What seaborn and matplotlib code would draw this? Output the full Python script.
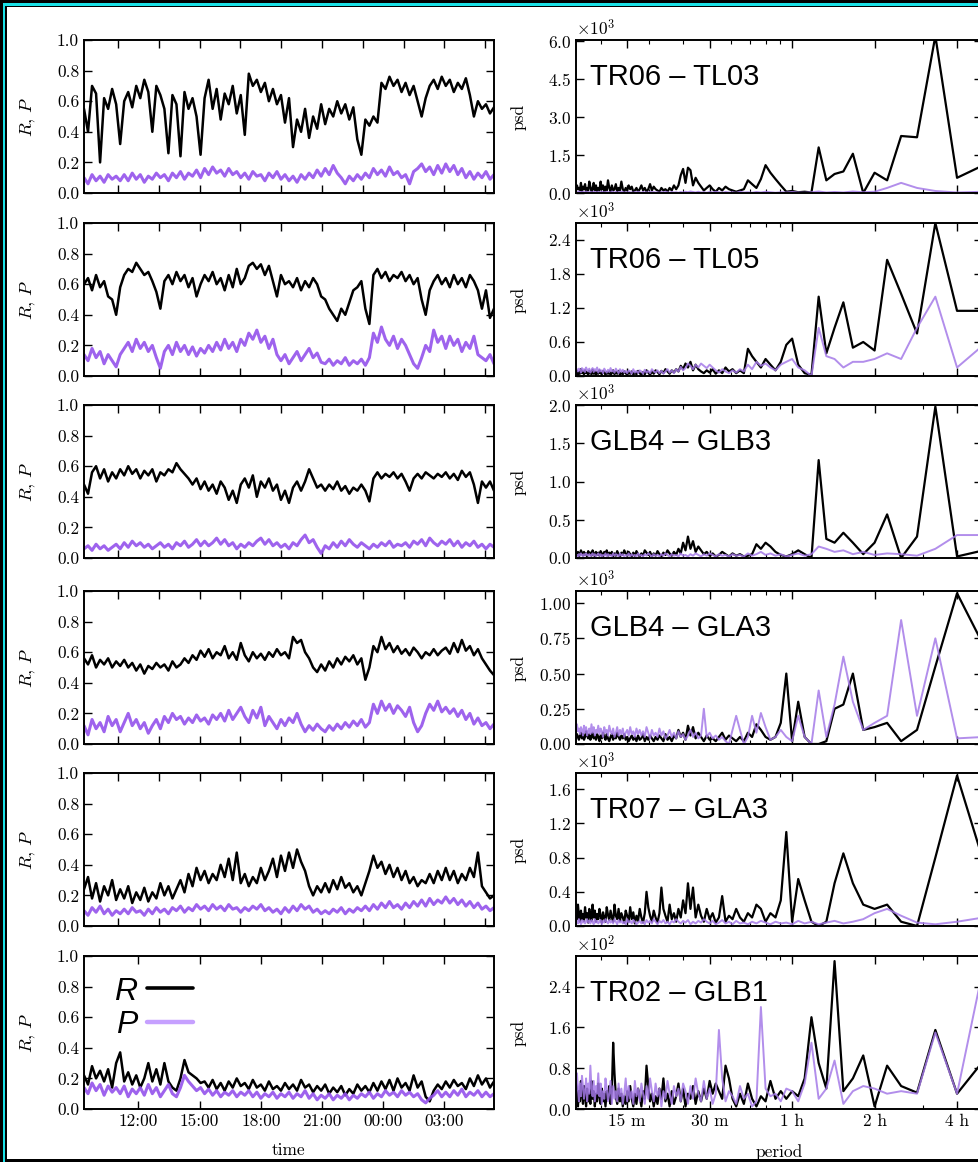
import numpy as np
import matplotlib
matplotlib.use("Agg")
import matplotlib.pyplot as plt
from matplotlib.lines import Line2D
from matplotlib.patches import Rectangle
from matplotlib.ticker import ScalarFormatter, NullFormatter
import seaborn as sns

# -----------------------------
# data
# -----------------------------
pairs = ["TR06 \u2013 TL03", "TR06 \u2013 TL05", "GLB4 \u2013 GLB3",
         "GLB4 \u2013 GLA3", "TR07 \u2013 GLA3", "TR02 \u2013 GLB1"]

# time axis (hours since midnight of day 1), 103 samples from ~09:20 to ~05:26
t_start, t_end, n_t = 9.33, 29.43, 103

R1 = [0.55, 0.40, 0.70, 0.65, 0.20, 0.62, 0.55, 0.68, 0.58, 0.32,
      0.60, 0.66, 0.56, 0.70, 0.62, 0.74, 0.66, 0.40, 0.70, 0.64,
      0.55, 0.26, 0.64, 0.58, 0.24, 0.66, 0.55, 0.62, 0.50, 0.25,
      0.62, 0.74, 0.55, 0.68, 0.48, 0.65, 0.58, 0.70, 0.52, 0.64,
      0.38, 0.78, 0.70, 0.74, 0.66, 0.72, 0.60, 0.68, 0.58, 0.64,
      0.46, 0.62, 0.30, 0.48, 0.40, 0.55, 0.36, 0.50, 0.42, 0.58,
      0.45, 0.55, 0.50, 0.60, 0.52, 0.58, 0.48, 0.56, 0.35, 0.25,
      0.48, 0.44, 0.50, 0.46, 0.72, 0.68, 0.76, 0.70, 0.74, 0.66,
      0.72, 0.64, 0.70, 0.60, 0.50, 0.62, 0.70, 0.74, 0.68, 0.76,
      0.70, 0.74, 0.66, 0.72, 0.68, 0.75, 0.64, 0.50, 0.60, 0.55,
      0.58, 0.52, 0.56]
P1 = [0.10, 0.06, 0.12, 0.08, 0.11, 0.07, 0.12, 0.09, 0.11, 0.08,
      0.12, 0.08, 0.13, 0.09, 0.12, 0.07, 0.11, 0.09, 0.13, 0.10,
      0.12, 0.08, 0.13, 0.10, 0.14, 0.09, 0.13, 0.11, 0.15, 0.10,
      0.16, 0.12, 0.17, 0.13, 0.15, 0.11, 0.16, 0.12, 0.14, 0.10,
      0.13, 0.09, 0.14, 0.11, 0.12, 0.08, 0.13, 0.10, 0.14, 0.09,
      0.12, 0.08, 0.11, 0.07, 0.12, 0.09, 0.13, 0.10, 0.15, 0.11,
      0.16, 0.12, 0.18, 0.13, 0.10, 0.06, 0.11, 0.08, 0.12, 0.09,
      0.13, 0.10, 0.16, 0.12, 0.15, 0.11, 0.17, 0.12, 0.14, 0.10,
      0.12, 0.06, 0.14, 0.16, 0.19, 0.14, 0.17, 0.12, 0.18, 0.13,
      0.19, 0.14, 0.18, 0.12, 0.16, 0.10, 0.14, 0.09, 0.13, 0.10,
      0.14, 0.09, 0.12]
R2 = [0.60, 0.64, 0.56, 0.66, 0.58, 0.62, 0.52, 0.50, 0.40, 0.58,
      0.66, 0.70, 0.68, 0.74, 0.70, 0.66, 0.68, 0.62, 0.55, 0.44,
      0.62, 0.66, 0.60, 0.68, 0.62, 0.66, 0.58, 0.64, 0.52, 0.60,
      0.66, 0.62, 0.68, 0.60, 0.64, 0.56, 0.66, 0.58, 0.70, 0.60,
      0.64, 0.72, 0.74, 0.70, 0.73, 0.66, 0.72, 0.62, 0.52, 0.66,
      0.60, 0.62, 0.58, 0.64, 0.56, 0.62, 0.58, 0.64, 0.60, 0.52,
      0.50, 0.44, 0.40, 0.36, 0.44, 0.40, 0.48, 0.56, 0.58, 0.62,
      0.44, 0.34, 0.66, 0.70, 0.64, 0.68, 0.62, 0.66, 0.64, 0.68,
      0.62, 0.66, 0.60, 0.64, 0.50, 0.40, 0.56, 0.62, 0.66, 0.60,
      0.64, 0.58, 0.66, 0.60, 0.64, 0.58, 0.66, 0.62, 0.56, 0.44,
      0.56, 0.38, 0.44]
P2 = [0.14, 0.10, 0.18, 0.12, 0.16, 0.08, 0.14, 0.10, 0.06, 0.14,
      0.18, 0.22, 0.16, 0.24, 0.18, 0.22, 0.16, 0.20, 0.12, 0.05,
      0.16, 0.20, 0.14, 0.22, 0.16, 0.20, 0.14, 0.19, 0.13, 0.18,
      0.15, 0.20, 0.16, 0.22, 0.17, 0.24, 0.18, 0.22, 0.16, 0.24,
      0.20, 0.28, 0.24, 0.30, 0.22, 0.26, 0.18, 0.24, 0.14, 0.10,
      0.14, 0.08, 0.12, 0.16, 0.10, 0.14, 0.18, 0.12, 0.15, 0.09,
      0.08, 0.11, 0.07, 0.10, 0.08, 0.12, 0.07, 0.10, 0.08, 0.11,
      0.07, 0.12, 0.28, 0.22, 0.32, 0.24, 0.20, 0.26, 0.18, 0.24,
      0.20, 0.14, 0.08, 0.05, 0.12, 0.20, 0.16, 0.30, 0.22, 0.26,
      0.18, 0.26, 0.20, 0.24, 0.16, 0.22, 0.18, 0.26, 0.14, 0.12,
      0.10, 0.14, 0.08]
R3 = [0.48, 0.42, 0.56, 0.60, 0.52, 0.58, 0.50, 0.56, 0.52, 0.58,
      0.54, 0.60, 0.55, 0.58, 0.52, 0.57, 0.54, 0.58, 0.50, 0.56,
      0.54, 0.58, 0.56, 0.62, 0.58, 0.55, 0.52, 0.48, 0.52, 0.45,
      0.50, 0.44, 0.48, 0.42, 0.50, 0.46, 0.38, 0.44, 0.36, 0.48,
      0.52, 0.46, 0.54, 0.40, 0.50, 0.46, 0.52, 0.44, 0.48, 0.38,
      0.44, 0.36, 0.46, 0.50, 0.44, 0.50, 0.58, 0.52, 0.46, 0.48,
      0.44, 0.48, 0.45, 0.50, 0.44, 0.47, 0.42, 0.46, 0.44, 0.48,
      0.44, 0.37, 0.52, 0.56, 0.52, 0.55, 0.53, 0.56, 0.52, 0.55,
      0.50, 0.44, 0.52, 0.55, 0.52, 0.56, 0.54, 0.52, 0.55, 0.53,
      0.56, 0.52, 0.55, 0.51, 0.57, 0.53, 0.56, 0.48, 0.36, 0.50,
      0.46, 0.50, 0.44]
P3 = [0.06, 0.08, 0.05, 0.09, 0.06, 0.08, 0.05, 0.07, 0.09, 0.06,
      0.10, 0.07, 0.11, 0.08, 0.10, 0.07, 0.09, 0.06, 0.08, 0.10,
      0.07, 0.09, 0.06, 0.10, 0.08, 0.11, 0.07, 0.09, 0.12, 0.08,
      0.11, 0.08, 0.10, 0.13, 0.09, 0.12, 0.08, 0.10, 0.06, 0.09,
      0.07, 0.10, 0.08, 0.11, 0.13, 0.09, 0.12, 0.08, 0.10, 0.07,
      0.09, 0.06, 0.10, 0.08, 0.12, 0.15, 0.10, 0.12, 0.07, 0.03,
      0.08, 0.06, 0.10, 0.07, 0.11, 0.08, 0.12, 0.09, 0.07, 0.10,
      0.08, 0.06, 0.09, 0.07, 0.10, 0.08, 0.11, 0.07, 0.09, 0.08,
      0.10, 0.07, 0.11, 0.09, 0.12, 0.08, 0.13, 0.10, 0.08, 0.11,
      0.09, 0.12, 0.08, 0.11, 0.07, 0.10, 0.08, 0.11, 0.07, 0.09,
      0.06, 0.09, 0.07]
R4 = [0.56, 0.52, 0.58, 0.50, 0.55, 0.52, 0.56, 0.50, 0.54, 0.51,
      0.55, 0.50, 0.53, 0.48, 0.52, 0.46, 0.51, 0.49, 0.53, 0.50,
      0.52, 0.48, 0.54, 0.50, 0.52, 0.56, 0.53, 0.58, 0.55, 0.61,
      0.57, 0.62, 0.56, 0.60, 0.58, 0.64, 0.56, 0.60, 0.55, 0.66,
      0.58, 0.54, 0.60, 0.56, 0.59, 0.55, 0.60, 0.57, 0.62, 0.58,
      0.60, 0.56, 0.70, 0.66, 0.68, 0.60, 0.56, 0.50, 0.47, 0.52,
      0.48, 0.54, 0.50, 0.56, 0.52, 0.57, 0.54, 0.58, 0.52, 0.56,
      0.42, 0.50, 0.64, 0.60, 0.70, 0.62, 0.66, 0.60, 0.64, 0.59,
      0.62, 0.58, 0.63, 0.60, 0.56, 0.60, 0.58, 0.62, 0.58, 0.61,
      0.63, 0.59, 0.66, 0.60, 0.68, 0.61, 0.64, 0.58, 0.62, 0.56,
      0.52, 0.48, 0.45]
P4 = [0.12, 0.06, 0.16, 0.10, 0.14, 0.08, 0.18, 0.12, 0.16, 0.08,
      0.14, 0.20, 0.12, 0.16, 0.10, 0.14, 0.07, 0.12, 0.16, 0.10,
      0.18, 0.14, 0.20, 0.16, 0.18, 0.13, 0.17, 0.14, 0.19, 0.15,
      0.17, 0.13, 0.19, 0.16, 0.20, 0.15, 0.22, 0.16, 0.20, 0.24,
      0.18, 0.14, 0.22, 0.17, 0.24, 0.12, 0.18, 0.14, 0.10, 0.16,
      0.12, 0.17, 0.14, 0.20, 0.13, 0.08, 0.12, 0.09, 0.13, 0.10,
      0.08, 0.12, 0.09, 0.13, 0.10, 0.14, 0.11, 0.15, 0.12, 0.16,
      0.11, 0.14, 0.26, 0.20, 0.28, 0.22, 0.26, 0.20, 0.25, 0.22,
      0.18, 0.24, 0.14, 0.08, 0.12, 0.20, 0.26, 0.22, 0.28, 0.21,
      0.24, 0.20, 0.23, 0.18, 0.22, 0.16, 0.20, 0.13, 0.17, 0.12,
      0.14, 0.10, 0.13]
R5 = [0.24, 0.32, 0.18, 0.28, 0.16, 0.26, 0.20, 0.30, 0.17, 0.24,
      0.18, 0.26, 0.15, 0.22, 0.17, 0.25, 0.16, 0.22, 0.18, 0.28,
      0.20, 0.26, 0.18, 0.24, 0.30, 0.22, 0.34, 0.26, 0.38, 0.30,
      0.36, 0.28, 0.34, 0.30, 0.40, 0.32, 0.44, 0.30, 0.48, 0.28,
      0.34, 0.26, 0.32, 0.28, 0.38, 0.30, 0.36, 0.44, 0.32, 0.46,
      0.36, 0.48, 0.38, 0.50, 0.42, 0.36, 0.26, 0.20, 0.26, 0.22,
      0.28, 0.22, 0.30, 0.24, 0.32, 0.25, 0.28, 0.22, 0.26, 0.20,
      0.28, 0.36, 0.46, 0.38, 0.42, 0.34, 0.40, 0.32, 0.38, 0.30,
      0.36, 0.28, 0.32, 0.26, 0.30, 0.28, 0.34, 0.28, 0.36, 0.30,
      0.38, 0.30, 0.36, 0.28, 0.34, 0.30, 0.38, 0.32, 0.48, 0.26,
      0.22, 0.18, 0.20]
P5 = [0.10, 0.07, 0.12, 0.09, 0.13, 0.08, 0.11, 0.07, 0.10, 0.08,
      0.11, 0.08, 0.12, 0.09, 0.10, 0.07, 0.11, 0.08, 0.12, 0.09,
      0.11, 0.08, 0.12, 0.10, 0.13, 0.09, 0.12, 0.10, 0.14, 0.11,
      0.13, 0.10, 0.14, 0.11, 0.13, 0.10, 0.14, 0.11, 0.12, 0.09,
      0.12, 0.10, 0.13, 0.11, 0.14, 0.10, 0.12, 0.09, 0.11, 0.08,
      0.12, 0.09, 0.13, 0.10, 0.14, 0.11, 0.13, 0.09, 0.11, 0.08,
      0.10, 0.08, 0.11, 0.09, 0.12, 0.08, 0.11, 0.09, 0.12, 0.10,
      0.13, 0.10, 0.14, 0.11, 0.15, 0.12, 0.16, 0.12, 0.14, 0.11,
      0.15, 0.12, 0.16, 0.13, 0.17, 0.13, 0.18, 0.14, 0.17, 0.15,
      0.19, 0.15, 0.18, 0.14, 0.17, 0.13, 0.16, 0.12, 0.15, 0.11,
      0.13, 0.10, 0.12]
R6 = [0.22, 0.16, 0.28, 0.20, 0.25, 0.18, 0.26, 0.14, 0.30, 0.37,
      0.18, 0.24, 0.16, 0.22, 0.14, 0.20, 0.30, 0.18, 0.26, 0.16,
      0.30, 0.18, 0.14, 0.12, 0.20, 0.32, 0.24, 0.22, 0.20, 0.17,
      0.18, 0.14, 0.19, 0.13, 0.17, 0.12, 0.18, 0.14, 0.20, 0.15,
      0.17, 0.13, 0.19, 0.14, 0.16, 0.12, 0.18, 0.13, 0.15, 0.12,
      0.17, 0.13, 0.16, 0.12, 0.19, 0.14, 0.16, 0.11, 0.15, 0.12,
      0.16, 0.10, 0.14, 0.11, 0.15, 0.09, 0.13, 0.10, 0.16, 0.12,
      0.15, 0.11, 0.17, 0.12, 0.18, 0.13, 0.19, 0.12, 0.20, 0.14,
      0.17, 0.12, 0.22, 0.14, 0.18, 0.08, 0.05, 0.12, 0.16, 0.13,
      0.18, 0.14, 0.19, 0.15, 0.17, 0.13, 0.20, 0.15, 0.22, 0.16,
      0.20, 0.14, 0.18]
P6 = [0.14, 0.10, 0.17, 0.12, 0.16, 0.09, 0.15, 0.11, 0.14, 0.10,
      0.15, 0.08, 0.13, 0.10, 0.14, 0.09, 0.16, 0.10, 0.14, 0.08,
      0.12, 0.16, 0.10, 0.08, 0.14, 0.22, 0.18, 0.15, 0.12, 0.14,
      0.10, 0.13, 0.09, 0.12, 0.08, 0.11, 0.09, 0.12, 0.08, 0.11,
      0.09, 0.12, 0.08, 0.11, 0.07, 0.10, 0.08, 0.11, 0.07, 0.10,
      0.08, 0.11, 0.07, 0.10, 0.08, 0.12, 0.07, 0.10, 0.06, 0.09,
      0.07, 0.10, 0.06, 0.09, 0.07, 0.10, 0.06, 0.09, 0.07, 0.10,
      0.08, 0.11, 0.07, 0.10, 0.08, 0.12, 0.09, 0.11, 0.08, 0.12,
      0.09, 0.11, 0.08, 0.10, 0.06, 0.04, 0.07, 0.09, 0.12, 0.08,
      0.11, 0.08, 0.12, 0.09, 0.13, 0.08, 0.11, 0.09, 0.12, 0.08,
      0.11, 0.08, 0.10]

# spectra: periods = record / k for k = 4..123 (record ~ 20 h)
record_min = 1200.0
k_first, k_last = 4, 123
psd_scale = [1e3, 1e3, 1e3, 1e3, 1e3, 1e2]

SR1 = [1.10, 0.60, 6.20, 2.20, 2.25, 0.50, 0.80, 0.00, 1.55, 0.85,
       0.75, 0.50, 1.80, 0.02, 0.05, 0.03, 0.08, 0.05, 0.30, 0.55,
       0.80, 1.10, 0.55, 0.20, 0.35, 0.50, 0.15, 0.10, 0.05, 0.10,
       0.15, 0.25, 0.10, 0.20, 0.05, 0.15, 0.30, 0.20, 0.10, 0.25,
       0.40, 0.60, 0.30, 0.90, 1.00, 0.40, 0.95, 0.70, 0.30, 0.15,
       0.30, 0.10, 0.20, 0.05, 0.15, 0.10, 0.20, 0.05, 0.10, 0.15,
       0.25, 0.10, 0.35, 0.15, 0.05, 0.20, 0.10, 0.30, 0.15, 0.05,
       0.20, 0.10, 0.05, 0.25, 0.15, 0.30, 0.10, 0.20, 0.05, 0.15,
       0.45, 0.10, 0.20, 0.05, 0.35, 0.15, 0.10, 0.30, 0.05, 0.20,
       0.50, 0.10, 0.25, 0.05, 0.30, 0.15, 0.45, 0.10, 0.20, 0.05,
       0.30, 0.10, 0.40, 0.15, 0.05, 0.25, 0.45, 0.10, 0.20, 0.05,
       0.35, 0.15, 0.25, 0.05, 0.40, 0.10, 0.20, 0.15, 0.30, 0.10]
SP1 = [0.05, 0.02, 0.08, 0.20, 0.40, 0.20, 0.05, 0.03, 0.06, 0.02,
       0.04, 0.02, 0.06, 0.03, 0.01, 0.02, 0.04, 0.02, 0.03, 0.01,
       0.03, 0.05, 0.02, 0.04, 0.01, 0.03, 0.02, 0.05, 0.01, 0.03,
       0.02, 0.04, 0.01, 0.03, 0.05, 0.02, 0.04, 0.01, 0.03, 0.02,
       0.05, 0.02, 0.04, 0.06, 0.03, 0.05, 0.02, 0.04, 0.01, 0.03,
       0.02, 0.04, 0.01, 0.03, 0.05, 0.02, 0.04, 0.01, 0.03, 0.02,
       0.04, 0.02, 0.05, 0.01, 0.03, 0.02, 0.04, 0.01, 0.03, 0.05,
       0.02, 0.04, 0.01, 0.03, 0.02, 0.05, 0.01, 0.03, 0.02, 0.04,
       0.06, 0.02, 0.04, 0.01, 0.05, 0.02, 0.03, 0.06, 0.01, 0.04,
       0.02, 0.05, 0.01, 0.04, 0.02, 0.06, 0.03, 0.01, 0.05, 0.02,
       0.04, 0.01, 0.06, 0.02, 0.03, 0.05, 0.01, 0.04, 0.02, 0.06,
       0.03, 0.01, 0.05, 0.02, 0.04, 0.01, 0.06, 0.02, 0.03, 0.05]
SR2 = [1.15, 1.15, 2.70, 0.75, 1.45, 2.05, 0.45, 0.60, 0.50, 1.30,
       0.85, 0.40, 1.40, 0.02, 0.05, 0.20, 0.66, 0.55, 0.25, 0.10,
       0.20, 0.30, 0.15, 0.25, 0.35, 0.48, 0.05, 0.10, 0.05, 0.12,
       0.08, 0.15, 0.05, 0.10, 0.04, 0.12, 0.06, 0.10, 0.05, 0.08,
       0.12, 0.20, 0.10, 0.25, 0.15, 0.22, 0.12, 0.18, 0.08, 0.12,
       0.06, 0.10, 0.04, 0.08, 0.12, 0.05, 0.09, 0.03, 0.07, 0.10,
       0.04, 0.08, 0.02, 0.06, 0.10, 0.03, 0.07, 0.02, 0.05, 0.09,
       0.03, 0.06, 0.02, 0.08, 0.04, 0.07, 0.02, 0.05, 0.08, 0.03,
       0.06, 0.02, 0.09, 0.04, 0.07, 0.03, 0.10, 0.05, 0.02, 0.08,
       0.04, 0.07, 0.02, 0.06, 0.09, 0.03, 0.05, 0.10, 0.04, 0.07,
       0.02, 0.08, 0.04, 0.11, 0.03, 0.06, 0.09, 0.02, 0.07, 0.05,
       0.10, 0.03, 0.08, 0.05, 0.12, 0.04, 0.07, 0.02, 0.09, 0.06]
SP2 = [0.55, 0.15, 1.40, 0.85, 0.30, 0.40, 0.30, 0.25, 0.25, 0.15,
       0.30, 0.35, 0.85, 0.00, 0.10, 0.15, 0.30, 0.25, 0.20, 0.10,
       0.15, 0.22, 0.18, 0.25, 0.12, 0.20, 0.08, 0.12, 0.06, 0.10,
       0.05, 0.08, 0.12, 0.06, 0.10, 0.15, 0.20, 0.14, 0.18, 0.22,
       0.15, 0.20, 0.12, 0.18, 0.22, 0.14, 0.10, 0.16, 0.08, 0.12,
       0.05, 0.10, 0.06, 0.12, 0.08, 0.04, 0.09, 0.05, 0.10, 0.06,
       0.08, 0.12, 0.05, 0.09, 0.06, 0.11, 0.04, 0.08, 0.10, 0.05,
       0.09, 0.06, 0.12, 0.04, 0.08, 0.10, 0.05, 0.09, 0.06, 0.11,
       0.07, 0.12, 0.05, 0.09, 0.13, 0.06, 0.10, 0.08, 0.14, 0.07,
       0.11, 0.06, 0.09, 0.13, 0.05, 0.10, 0.08, 0.12, 0.06, 0.15,
       0.09, 0.12, 0.07, 0.14, 0.10, 0.06, 0.13, 0.08, 0.11, 0.15,
       0.07, 0.12, 0.09, 0.14, 0.06, 0.11, 0.13, 0.08, 0.12, 0.10]
SR3 = [0.10, 0.02, 1.98, 0.28, 0.00, 0.57, 0.20, 0.05, 0.20, 0.33,
       0.20, 0.25, 1.28, 0.00, 0.05, 0.10, 0.05, 0.02, 0.04, 0.08,
       0.15, 0.20, 0.12, 0.18, 0.05, 0.03, 0.02, 0.05, 0.03, 0.06,
       0.02, 0.05, 0.08, 0.04, 0.02, 0.06, 0.03, 0.08, 0.05, 0.10,
       0.15, 0.08, 0.22, 0.12, 0.28, 0.10, 0.20, 0.06, 0.12, 0.04,
       0.08, 0.03, 0.06, 0.10, 0.04, 0.07, 0.02, 0.05, 0.09, 0.03,
       0.06, 0.02, 0.08, 0.04, 0.07, 0.10, 0.03, 0.06, 0.02, 0.05,
       0.09, 0.03, 0.07, 0.02, 0.05, 0.08, 0.03, 0.06, 0.10, 0.04,
       0.07, 0.02, 0.05, 0.09, 0.03, 0.06, 0.02, 0.08, 0.04, 0.07,
       0.03, 0.10, 0.05, 0.08, 0.02, 0.06, 0.09, 0.03, 0.07, 0.04,
       0.08, 0.02, 0.06, 0.10, 0.03, 0.07, 0.05, 0.09, 0.02, 0.06,
       0.04, 0.08, 0.03, 0.07, 0.10, 0.05, 0.02, 0.08, 0.04, 0.06]
SP3 = [0.30, 0.30, 0.12, 0.03, 0.05, 0.06, 0.04, 0.08, 0.05, 0.10,
       0.08, 0.12, 0.15, 0.05, 0.03, 0.06, 0.04, 0.02, 0.05, 0.03,
       0.06, 0.04, 0.08, 0.05, 0.03, 0.06, 0.02, 0.04, 0.03, 0.05,
       0.02, 0.04, 0.03, 0.05, 0.02, 0.04, 0.06, 0.03, 0.05, 0.02,
       0.04, 0.06, 0.03, 0.05, 0.02, 0.04, 0.03, 0.06, 0.02, 0.04,
       0.03, 0.05, 0.02, 0.04, 0.06, 0.03, 0.05, 0.02, 0.04, 0.03,
       0.05, 0.02, 0.04, 0.06, 0.03, 0.05, 0.02, 0.04, 0.03, 0.06,
       0.02, 0.04, 0.03, 0.05, 0.02, 0.06, 0.03, 0.04, 0.02, 0.05,
       0.03, 0.06, 0.02, 0.04, 0.05, 0.03, 0.06, 0.02, 0.04, 0.03,
       0.05, 0.02, 0.06, 0.03, 0.04, 0.02, 0.05, 0.03, 0.06, 0.04,
       0.02, 0.05, 0.03, 0.06, 0.04, 0.02, 0.05, 0.03, 0.04, 0.06,
       0.03, 0.05, 0.02, 0.04, 0.06, 0.03, 0.05, 0.02, 0.04, 0.03]
SR4 = [0.70, 1.07, 0.55, 0.10, 0.02, 0.15, 0.12, 0.10, 0.50, 0.28,
       0.25, 0.02, 0.00, 0.00, 0.05, 0.30, 0.02, 0.50, 0.15, 0.05,
       0.03, 0.05, 0.10, 0.14, 0.05, 0.08, 0.02, 0.05, 0.02, 0.04,
       0.06, 0.03, 0.08, 0.05, 0.02, 0.04, 0.03, 0.06, 0.02, 0.05,
       0.08, 0.04, 0.12, 0.06, 0.13, 0.03, 0.08, 0.05, 0.10, 0.04,
       0.06, 0.02, 0.05, 0.03, 0.07, 0.02, 0.04, 0.06, 0.03, 0.05,
       0.02, 0.04, 0.06, 0.03, 0.05, 0.02, 0.07, 0.04, 0.03, 0.06,
       0.02, 0.05, 0.03, 0.06, 0.04, 0.02, 0.05, 0.03, 0.07, 0.04,
       0.06, 0.03, 0.05, 0.08, 0.04, 0.06, 0.03, 0.07, 0.05, 0.02,
       0.04, 0.07, 0.03, 0.05, 0.08, 0.04, 0.06, 0.02, 0.05, 0.07,
       0.03, 0.06, 0.04, 0.08, 0.05, 0.03, 0.07, 0.04, 0.06, 0.09,
       0.05, 0.03, 0.07, 0.04, 0.08, 0.06, 0.03, 0.05, 0.07, 0.04]
SP4 = [0.05, 0.04, 0.75, 0.20, 0.88, 0.20, 0.15, 0.10, 0.30, 0.62,
       0.28, 0.05, 0.38, 0.00, 0.05, 0.20, 0.02, 0.05, 0.10, 0.05,
       0.03, 0.12, 0.22, 0.08, 0.20, 0.05, 0.00, 0.10, 0.20, 0.10,
       0.00, 0.02, 0.05, 0.03, 0.06, 0.04, 0.08, 0.05, 0.25, 0.06,
       0.04, 0.08, 0.05, 0.10, 0.06, 0.03, 0.07, 0.05, 0.09, 0.04,
       0.08, 0.05, 0.10, 0.06, 0.04, 0.09, 0.06, 0.11, 0.05, 0.08,
       0.06, 0.10, 0.04, 0.08, 0.12, 0.05, 0.09, 0.06, 0.10, 0.07,
       0.11, 0.05, 0.09, 0.07, 0.12, 0.06, 0.10, 0.08, 0.05, 0.11,
       0.07, 0.10, 0.06, 0.12, 0.08, 0.05, 0.11, 0.07, 0.09, 0.13,
       0.06, 0.10, 0.08, 0.12, 0.05, 0.09, 0.11, 0.07, 0.13, 0.08,
       0.10, 0.06, 0.12, 0.08, 0.14, 0.07, 0.11, 0.09, 0.06, 0.12,
       0.08, 0.13, 0.06, 0.10, 0.12, 0.07, 0.11, 0.09, 0.14, 0.08]
SR5 = [0.75, 1.76, 0.80, 0.00, 0.05, 0.25, 0.20, 0.25, 0.50, 0.85,
       0.50, 0.05, 0.00, 0.05, 0.30, 0.55, 0.05, 1.10, 0.30, 0.10,
       0.15, 0.05, 0.20, 0.25, 0.10, 0.15, 0.05, 0.10, 0.20, 0.08,
       0.12, 0.05, 0.35, 0.10, 0.04, 0.15, 0.08, 0.20, 0.05, 0.12,
       0.25, 0.10, 0.45, 0.20, 0.50, 0.15, 0.30, 0.10, 0.20, 0.05,
       0.15, 0.08, 0.25, 0.05, 0.12, 0.20, 0.45, 0.15, 0.04, 0.10,
       0.18, 0.05, 0.12, 0.22, 0.40, 0.15, 0.04, 0.10, 0.20, 0.06,
       0.12, 0.03, 0.16, 0.08, 0.22, 0.05, 0.12, 0.18, 0.04, 0.10,
       0.15, 0.06, 0.20, 0.08, 0.12, 0.25, 0.05, 0.10, 0.18, 0.07,
       0.13, 0.22, 0.05, 0.10, 0.16, 0.04, 0.12, 0.20, 0.08, 0.14,
       0.05, 0.18, 0.10, 0.25, 0.06, 0.12, 0.20, 0.04, 0.15, 0.10,
       0.22, 0.06, 0.14, 0.08, 0.18, 0.05, 0.12, 0.25, 0.08, 0.15]
SP5 = [0.10, 0.05, 0.02, 0.04, 0.12, 0.20, 0.15, 0.08, 0.05, 0.03,
       0.06, 0.04, 0.02, 0.05, 0.03, 0.06, 0.02, 0.04, 0.03, 0.05,
       0.02, 0.04, 0.06, 0.03, 0.05, 0.02, 0.04, 0.03, 0.06, 0.02,
       0.05, 0.03, 0.07, 0.04, 0.02, 0.06, 0.03, 0.05, 0.08, 0.04,
       0.06, 0.03, 0.05, 0.02, 0.07, 0.04, 0.06, 0.03, 0.05, 0.08,
       0.04, 0.06, 0.02, 0.05, 0.03, 0.07, 0.04, 0.06, 0.02, 0.05,
       0.08, 0.03, 0.06, 0.04, 0.07, 0.02, 0.05, 0.03, 0.06, 0.04,
       0.02, 0.05, 0.07, 0.03, 0.06, 0.04, 0.08, 0.02, 0.05, 0.03,
       0.06, 0.04, 0.07, 0.02, 0.05, 0.08, 0.03, 0.06, 0.04, 0.07,
       0.03, 0.05, 0.08, 0.04, 0.06, 0.02, 0.07, 0.05, 0.03, 0.06,
       0.04, 0.08, 0.02, 0.05, 0.07, 0.03, 0.06, 0.04, 0.08, 0.05,
       0.03, 0.06, 0.04, 0.07, 0.02, 0.05, 0.08, 0.03, 0.06, 0.04]
SR6 = [0.95, 0.30, 1.55, 0.32, 0.45, 0.85, 0.05, 1.05, 0.60, 0.35,
       2.90, 0.40, 0.90, 1.80, 0.60, 0.25, 0.35, 0.20, 0.35, 0.20,
       0.55, 0.15, 0.25, 0.05, 0.20, 0.50, 0.10, 0.30, 0.05, 0.20,
       0.60, 0.85, 0.20, 0.35, 0.50, 0.30, 0.55, 0.20, 0.40, 0.15,
       0.35, 0.10, 0.45, 0.20, 0.30, 0.05, 0.40, 0.15, 0.50, 0.25,
       0.10, 0.35, 0.05, 0.30, 0.15, 0.60, 0.20, 0.40, 0.10, 0.25,
       0.05, 0.30, 0.15, 0.45, 0.85, 0.20, 0.35, 0.05, 0.25, 0.40,
       0.10, 0.30, 0.05, 0.20, 0.45, 0.15, 0.35, 0.10, 0.25, 0.05,
       0.30, 0.15, 0.40, 0.10, 0.25, 0.70, 1.30, 0.35, 0.10, 0.45,
       0.20, 0.35, 0.05, 0.30, 0.15, 0.40, 0.10, 0.25, 0.50, 0.15,
       0.30, 0.05, 0.35, 0.20, 0.55, 0.10, 0.30, 0.15, 0.40, 0.05,
       0.25, 0.45, 0.10, 0.30, 0.55, 0.15, 0.35, 0.05, 0.40, 0.50]
SP6 = [2.80, 0.30, 1.50, 0.30, 0.35, 0.30, 0.40, 0.45, 0.35, 0.10,
       0.95, 0.40, 0.20, 1.30, 0.50, 0.15, 0.35, 0.40, 0.15, 0.30,
       0.25, 0.40, 2.00, 0.15, 0.05, 0.30, 0.20, 0.45, 0.10, 0.25,
       0.35, 0.15, 0.60, 1.55, 0.30, 0.10, 0.40, 0.20, 0.55, 0.15,
       0.30, 0.60, 0.20, 0.45, 0.10, 0.35, 0.50, 0.15, 0.40, 0.25,
       0.45, 0.10, 0.30, 0.55, 0.20, 0.35, 0.05, 0.40, 0.25, 0.50,
       0.15, 0.35, 0.60, 0.20, 0.45, 0.10, 0.30, 0.50, 0.15, 0.40,
       0.25, 0.55, 0.10, 0.35, 0.20, 0.45, 0.15, 0.60, 0.30, 0.10,
       0.40, 0.25, 0.50, 0.15, 0.35, 0.20, 0.45, 0.10, 0.55, 0.30,
       0.15, 0.40, 0.60, 0.20, 0.35, 0.10, 0.50, 0.25, 0.70, 0.30,
       0.45, 0.15, 0.55, 0.25, 0.40, 0.85, 0.30, 0.50, 0.15, 0.60,
       0.35, 0.20, 0.45, 0.65, 0.25, 0.50, 0.15, 0.40, 0.70, 0.30]

psd_ticks = [[0, 1.5, 3.0, 4.5, 6.0], [0, 0.6, 1.2, 1.8, 2.4], [0, 0.5, 1.0, 1.5, 2.0],
             [0, 0.25, 0.5, 0.75, 1.0], [0, 0.4, 0.8, 1.2, 1.6], [0, 0.8, 1.6, 2.4]]
psd_top = [6.04, 2.70, 2.0, 1.086, 1.79, 3.0]

time_ticks = [12, 15, 18, 21, 24, 27]
time_labels = ["12:00", "15:00", "18:00", "21:00", "00:00", "03:00"]
period_ticks = [15, 30, 60, 120, 240]
period_labels = ["15 m", "30 m", "1 h", "2 h", "4 h"]

R_all = [R1, R2, R3, R4, R5, R6]
P_all = [P1, P2, P3, P4, P5, P6]
SR_all = [SR1, SR2, SR3, SR4, SR5, SR6]
SP_all = [SP1, SP2, SP3, SP4, SP5, SP6]

# -----------------------------
# style
# -----------------------------
sns.set_theme(style="ticks")
plt.rcParams.update({
    "font.family": ["cmr10", "DejaVu Serif"],
    "mathtext.fontset": "cm",
    "axes.formatter.use_mathtext": True,
    "axes.unicode_minus": False,
    "font.size": 12.5,
    "text.color": "black", "axes.labelcolor": "black",
    "xtick.direction": "in", "ytick.direction": "in",
    "xtick.top": True, "ytick.right": True,
    "xtick.major.size": 6, "ytick.major.size": 6,
    "xtick.minor.size": 3, "ytick.minor.size": 3,
    "xtick.major.width": 1.0, "ytick.major.width": 1.0,
    "xtick.minor.width": 0.8,
    "xtick.color": "black", "ytick.color": "black",
    "xtick.labelsize": 12.5, "ytick.labelsize": 12.5,
    "axes.linewidth": 1.4, "axes.edgecolor": "black",
})

BLACK = "black"
PURPLE = "#9452ec"
PURPLE_R = "#a57ae8"
LAVENDER = "#c6a0ff"

W, H = 979, 1162
fig = plt.figure(figsize=(W / 100, H / 100), dpi=100)
fig.patch.set_facecolor("black")

# window frame: cyan border on top/left, thin dark line, white page
for (x0, y0, x1, y1, c) in [(3, 0, W, H - 3, "#19e0e6"), (5, 0, W, H - 6, "black"),
                            (7, 3, W, H - 7, "white")]:
    fig.add_artist(Rectangle((x0 / W, y0 / H), (x1 - x0) / W, (y1 - y0) / H,
                             transform=fig.transFigure, facecolor=c,
                             edgecolor="none", zorder=-10))

row_tops = [40, 223, 405, 591, 773, 956]
row_h = 153

t_hours = np.linspace(t_start, t_end, n_t)
k = np.arange(k_first, k_last + 1)
period_min = record_min / k

for i in range(6):
    top = row_tops[i]
    axL = fig.add_axes([84 / W, (H - top - row_h) / H, 410 / W, row_h / H])
    axR = fig.add_axes([576 / W, (H - top - row_h) / H, 406 / W, row_h / H])

    # ---- left: R and P over time
    sns.lineplot(x=t_hours, y=R_all[i], ax=axL, color=BLACK, lw=1.8)
    sns.lineplot(x=t_hours, y=P_all[i], ax=axL, color=PURPLE, lw=2.2, alpha=0.9)
    axL.set_xlim(t_start, t_end)
    axL.set_ylim(0, 1)
    axL.set_yticks([0, 0.2, 0.4, 0.6, 0.8, 1.0])
    axL.set_yticklabels(["0.0", "0.2", "0.4", "0.6", "0.8", "1.0"])
    axL.set_ylabel(r"$R,\,P$", fontsize=13)
    axL.yaxis.set_label_coords(-0.112, 0.5)
    if i < 5:
        axL.set_xticks(np.arange(11, 30, 2))
        axL.set_xticklabels([])
        axL.set_xlabel("")
    else:
        axL.set_xticks(time_ticks)
        axL.set_xticklabels(time_labels)
        axL.set_xlabel("time", fontsize=12.5)
        axL.xaxis.set_label_coords(0.5, -0.22)
        handles = [Line2D([], [], color=BLACK, lw=2.6),
                   Line2D([], [], color=LAVENDER, lw=3.2)]
        axL.legend(handles, ["R", "P"], loc="upper left", bbox_to_anchor=(0.035, 0.97),
                   frameon=False, markerfirst=False, handlelength=1.45,
                   handletextpad=0.3, labelspacing=0.1, borderpad=0,
                   labelcolor="black",
                   prop={"family": "Liberation Sans", "style": "italic", "size": 23})

    # ---- right: power spectral density vs period
    sc = psd_scale[i]
    sns.lineplot(x=period_min, y=np.array(SR_all[i]) * sc, ax=axR, color=BLACK, lw=1.6)
    sns.lineplot(x=period_min, y=np.array(SP_all[i]) * sc, ax=axR, color=PURPLE_R,
                 lw=1.4, alpha=0.85)
    axR.set_xscale("log")
    axR.set_xlim(record_min / k_last, 296)
    axR.set_ylim(0, psd_top[i] * sc)
    axR.set_yticks(np.array(psd_ticks[i]) * sc)
    fmt = ScalarFormatter(useMathText=True)
    fmt.set_powerlimits((0, 0))
    axR.yaxis.set_major_formatter(fmt)
    axR.set_xticks(period_ticks)
    axR.set_xticks([12, 18, 24, 36, 42, 48, 54, 180], minor=True)
    axR.xaxis.set_minor_formatter(NullFormatter())
    if i < 5:
        axR.set_xticklabels([])
        axR.set_xlabel("")
    else:
        axR.set_xticklabels(period_labels)
        axR.set_xlabel("period", fontsize=12.5)
        axR.xaxis.set_label_coords(0.5, -0.23)
    axR.set_ylabel("psd", fontsize=12.5)
    axR.yaxis.set_label_coords(-0.122, 0.5)
    axR.text(0.035, 0.76, pairs[i], transform=axR.transAxes, va="center", ha="left",
             fontsize=21, family="Liberation Sans", color="black")

fig.savefig("out.png", dpi=100, facecolor=fig.get_facecolor())
